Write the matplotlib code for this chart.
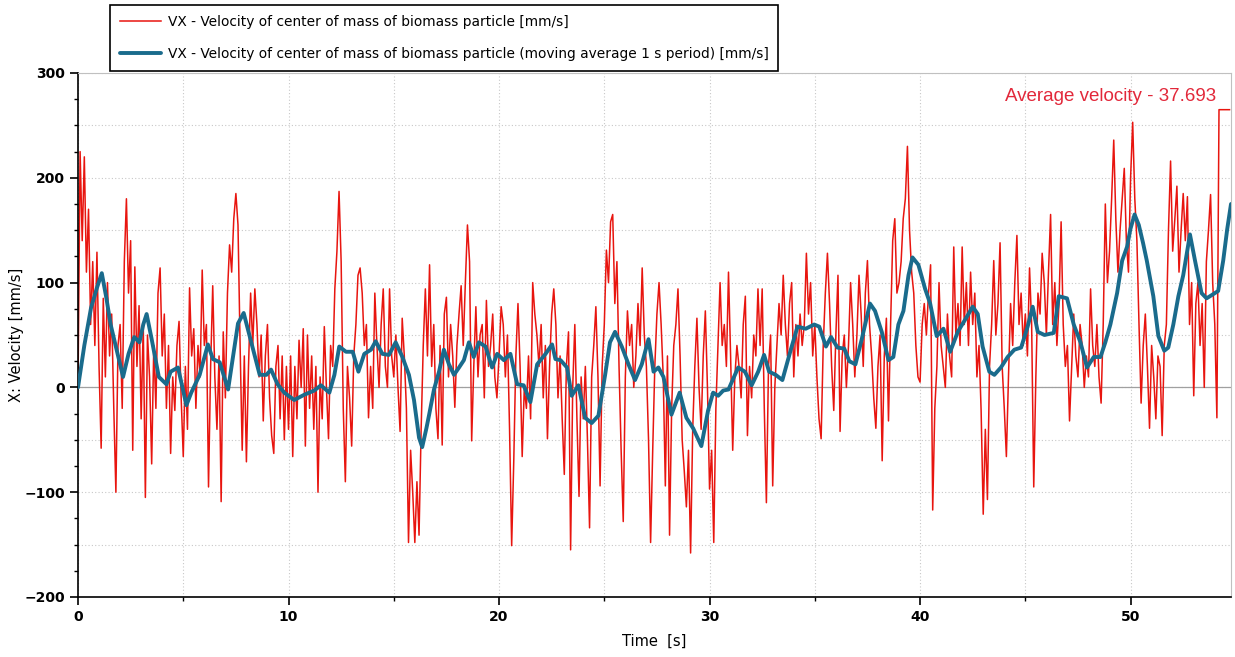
import numpy as np
import matplotlib
matplotlib.use("Agg")
import matplotlib.pyplot as plt
from matplotlib.ticker import MultipleLocator

vx = [
    0, 225, 140, 220, 110, 170, 60, 120, 40, 129,
    20, -58, 85, 10, 100, 30, 70, -20, -100, 40,
    60, -20, 120, 180, 90, 140, -60, 115, 20, 78,
    -30, 60, -105, 50, 10, -73, 40, -20, 90, 114,
    30, 70, -20, 40, -63, 10, -22, 40, 63, -10,
    -66, 20, -40, 95, 30, 56, -20, 40, 10, 112,
    40, 60, -95, 20, 97, 10, -40, 30, -109, 53,
    -10, 90, 136, 110, 161, 185, 155, 40, -60, 30,
    -71, 20, 90, 40, 94, 60, 10, 50, -32, 30,
    60, -10, -46, -63, 20, 40, -30, 30, -50, 20,
    -40, 30, -66, 20, -30, 45, 0, 56, -56, 50,
    -20, 30, -40, 20, -100, 10, -30, 58, 0, -49,
    40, 20, 94, 130, 187, 120, -20, -90, 20, -10,
    -56, 30, 60, 107, 114, 90, 40, 60, -29, 20,
    -20, 90, 40, 0, 60, 94, 20, 0, 94, 30,
    10, 50, 0, -42, 66, 30, -20, -148, -60, -100,
    -148, -90, -141, -40, 40, 94, 30, 117, 20, 60,
    -20, -49, 40, -55, 70, 86, 10, 60, 30, -19,
    40, 70, 97, 40, 100, 155, 120, -51, 20, 77,
    10, 50, 60, -10, 83, 20, 40, 70, 10, -10,
    30, 77, 60, 10, 50, -40, -151, -70, 30, 80,
    20, -66, 0, -20, 30, -30, 100, 70, 50, 20,
    60, -10, 40, -49, 20, 70, 94, 60, -10, 30,
    -30, -83, 20, 53, -155, 0, 60, -30, -104, 10,
    -30, 20, -50, -134, 10, 40, 77, 10, -94, 20,
    60, 131, 100, 158, 165, 80, 120, 20, -60, -128,
    10, 73, 40, 60, 0, 30, 80, 40, 114, 50,
    20, -49, -148, -60, 20, 70, 100, 60, 10, -94,
    30, -141, -20, 40, 60, 94, 30, -50, -80, -114,
    -60, -158, -40, 20, 66, 0, -40, 30, 73, 0,
    -97, -60, -148, -20, 40, 100, 40, 60, 20, 110,
    30, -60, 10, 40, 20, -10, 60, 87, -46, 20,
    -10, 50, 30, 94, 40, 94, -20, -110, 20, 50,
    -94, 0, 40, 80, 50, 107, 60, 30, 80, 100,
    10, 60, 30, 70, 40, 60, 128, 70, 100, 30,
    60, 10, -30, -49, 40, 90, 128, 80, 20, -22,
    50, 107, -42, 30, 50, 0, 40, 100, 60, 10,
    50, 107, 70, 20, 90, 121, 60, 30, -10, -39,
    20, 50, -70, 30, 66, -32, 60, 140, 161, 90,
    100, 120, 161, 180, 230, 150, 110, 90, 40, 10,
    5, 60, 80, 50, 90, 117, -117, -20, 20, 100,
    40, 20, 0, 70, 30, 10, 134, 50, 80, 40,
    134, 60, 100, 40, 110, 60, 90, 10, 40, -22,
    -121, -40, -107, 20, 60, 121, 50, 80, 138, 20,
    -20, -66, 10, 80, 40, 100, 145, 60, 90, 40,
    70, 30, 114, 60, -95, 10, 90, 70, 128, 100,
    50, 110, 165, 60, 100, 40, 80, 158, 60, 20,
    40, -32, 20, 70, 30, 10, 60, 40, 0, 30,
    10, 94, 40, 20, 60, 10, -15, 60, 175, 100,
    130, 180, 236, 160, 110, 150, 180, 209, 140, 110,
    200, 253, 180, 140, 60, -15, 40, 70, 20, -39,
    40, 10, -30, 30, 20, -46, 40, 60, 150, 216,
    130, 160, 192, 110, 150, 185, 140, 182, 60, 100,
    -8, 80, 100, 40, 80, 0, 120, 150, 184, 100,
    60, -29, 265, 265, 265, 265, 265, 265,
]
dt = 0.1
t_vx = np.arange(len(vx)) * dt

# moving average (1 s period)
t_ma = [
    0.0, 0.3, 0.62, 0.9, 1.13, 1.35, 1.55, 1.8, 2.14, 2.4, 2.67, 2.92, 3.1, 3.26,
    3.5, 3.84, 4.2, 4.4, 4.75, 5.15, 5.38, 5.78, 6.17, 6.41, 6.73, 7.13, 7.6, 7.87,
    8.23, 8.63, 8.95, 9.17, 9.48, 9.8, 10.27, 10.75, 11.22, 11.54, 11.94, 12.18,
    12.41, 12.73, 13.05, 13.32, 13.6, 13.92, 14.14, 14.46, 14.77, 15.09, 15.41,
    15.72, 15.96, 16.2, 16.35, 16.55, 16.68, 16.91, 17.15, 17.38, 17.62, 17.86,
    18.1, 18.33, 18.57, 18.8, 19.04, 19.36, 19.67, 19.91, 20.23, 20.54, 20.86,
    21.17, 21.49, 21.81, 22.21, 22.52, 22.68, 22.92, 23.23, 23.45, 23.77, 24.09,
    24.4, 24.72, 25.04, 25.27, 25.51, 25.83, 26.15, 26.46, 26.78, 27.1, 27.34,
    27.57, 27.81, 28.19, 28.58, 28.9, 29.22, 29.61, 29.93, 30.17, 30.41, 30.65,
    30.9, 31.12, 31.36, 31.68, 32.0, 32.31, 32.59, 32.83, 33.14, 33.46, 33.86,
    34.18, 34.57, 34.97, 35.21, 35.53, 35.77, 36.08, 36.4, 36.64, 36.93, 37.23,
    37.62, 37.86, 38.18, 38.5, 38.73, 38.97, 39.21, 39.45, 39.64, 39.92, 40.24,
    40.48, 40.79, 41.11, 41.43, 41.79, 42.18, 42.5, 42.74, 42.97, 43.29, 43.53,
    43.84, 44.16, 44.48, 44.8, 45.11, 45.35, 45.59, 45.91, 46.35, 46.59, 46.98,
    47.3, 47.62, 47.93, 48.25, 48.57, 48.8, 49.04, 49.36, 49.6, 49.83, 49.99,
    50.19, 50.39, 50.59, 50.77, 51.08, 51.32, 51.6, 51.79, 52.03, 52.27, 52.5,
    52.82, 53.06, 53.37, 53.61, 53.85, 54.16, 54.4, 54.59, 54.77,
]
v_ma = [
    0, 40, 76, 95, 109, 85, 60, 39, 10, 32, 48, 43, 60, 70,
    46, 10, 3, 15, 19, -17, -5, 12, 41, 27, 24, -2, 61, 71,
    43, 12, 12, 17, 3, -5, -12, -7, -3, 2, -5, 12,
    39, 34, 34, 15, 32, 36, 44, 32, 31, 43, 29,
    12, -12, -48, -57, -39, -26, -2, 15, 36, 22, 12,
    19, 26, 43, 29, 43, 39, 19, 32, 26, 32, 3,
    2, -14, 22, 32, 41, 27, 26, 19, -8, 2, -29,
    -34, -27, 12, 43, 53, 39, 22, 7, 22, 46, 15,
    19, 10, -26, -5, -29, -39, -56, -22, -5, -8, -3,
    -2, 8, 19, 15, 2, 15, 31, 15, 12, 7, 36,
    58, 56, 60, 58, 39, 48, 38, 37, 25, 22, 46,
    80, 73, 53, 26, 29, 60, 73, 107, 124, 117, 94,
    80, 49, 56, 34, 53, 66, 77, 70, 39, 15, 12,
    19, 29, 36, 38, 58, 77, 53, 50, 52, 87, 85,
    60, 43, 19, 29, 29, 43, 60, 90, 121, 134, 151,
    165, 155, 138, 121, 87, 49, 35, 38, 60, 87, 107,
    146, 121, 90, 85, 88, 92, 121, 151, 175,
]

label_raw = "VX - Velocity of center of mass of biomass particle [mm/s]"
label_ma = "VX - Velocity of center of mass of biomass particle (moving average 1 s period) [mm/s]"
avg_text = "Average velocity - 37.693"

W, H = 1235, 657
fig = plt.figure(figsize=(W / 100, H / 100), dpi=100)
ax = fig.add_axes([78 / W, 1 - 597 / H, (1231 - 78) / W, (597 - 73) / H])

ax.axhline(0, color="#a0a0a0", lw=0.9, zorder=1)
l1, = ax.plot(t_vx, vx, color="#e8150f", lw=1.1, zorder=2)
l2, = ax.plot(t_ma, v_ma, color="#1a6b8c", lw=2.8, zorder=3,
              solid_joinstyle="round", solid_capstyle="round")

ax.set_xlim(0, 54.77)
ax.set_ylim(-200, 300)
ax.xaxis.set_major_locator(MultipleLocator(10))
ax.xaxis.set_minor_locator(MultipleLocator(5))
ax.yaxis.set_major_locator(MultipleLocator(100))
ax.yaxis.set_minor_locator(MultipleLocator(25))

ax.grid(True, which="major", color="#c8c8c8", ls=(0, (1, 2)), lw=0.8)
ax.grid(True, which="minor", axis="x", color="#c8c8c8", ls=(0, (1, 2)), lw=0.8)
for yv in [-150, -50, 50, 150, 250]:
    ax.axhline(yv, color="#c8c8c8", ls=(0, (1, 2)), lw=0.8, zorder=0)
ax.set_axisbelow(True)

for s in ["left", "bottom"]:
    ax.spines[s].set_color("black")
    ax.spines[s].set_linewidth(1.2)
for s in ["top", "right"]:
    ax.spines[s].set_color("#c0c0c0")
    ax.spines[s].set_linewidth(0.8)

ax.tick_params(axis="both", which="major", direction="out", length=6, width=1.2,
               labelsize=10)
ax.tick_params(axis="both", which="minor", direction="out", length=3, width=1.0)
for lab in ax.get_xticklabels() + ax.get_yticklabels():
    lab.set_fontweight("bold")

ax.set_xlabel("Time  [s]", fontsize=10.5, labelpad=7)
ax.set_ylabel("X: Velocity [mm/s]", fontsize=10.5, labelpad=0)

ax.text(0.9875, 0.955, avg_text, transform=ax.transAxes, ha="right", va="center",
        color="#e2283a", fontsize=13.5, family="Liberation Sans")

leg = fig.legend([l1, l2], [label_raw, label_ma], loc="upper left",
                 bbox_to_anchor=(110 / W, 1 - 5 / H), fontsize=9.9, frameon=True,
                 fancybox=False, edgecolor="black", framealpha=1,
                 handlelength=3.0, labelspacing=1.35, borderpad=0.7,
                 handletextpad=0.5, borderaxespad=0)
leg.get_frame().set_linewidth(1.2)

fig.savefig("out.png", dpi=100)
